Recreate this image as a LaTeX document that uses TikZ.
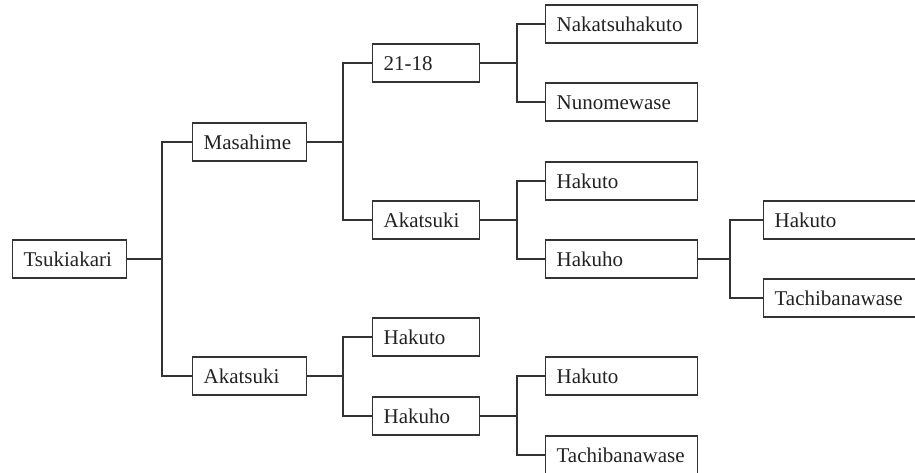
\documentclass[tikz,border=0pt]{standalone}
\usepackage{fontspec}
\setmainfont{Liberation Serif}
\definecolor{linec}{HTML}{333333}
\definecolor{textc}{HTML}{222222}
\begin{document}
\begin{tikzpicture}[x=1pt,y=-1pt,
  box/.style={draw=linec, line width=1.2pt, rectangle, anchor=west, minimum height=38pt,
    inner xsep=11pt, inner ysep=0pt, text height=15pt, text depth=1pt, align=left,
    font=\fontsize{21}{24}\selectfont, text=textc},
  colA/.style={box, text width=92pt},
  colB/.style={box, text width=85pt},
  colC/.style={box, text width=130pt},
  colD/.style={box, text width=138pt},
  conn/.style={draw=linec, line width=1.2pt}]
\useasboundingbox (0,0) rectangle (915,472);
\clip (0,0) rectangle (915,472);
% column 1
\node[colA] (tsu) at (12,259) {Tsukiakari};
% column 2
\node[colA] (masa) at (192,142) {Masahime};
\node[colA] (aka1) at (192,376) {Akatsuki};
% column 3
\node[colB] (n2118) at (372,63) {21-18};
\node[colB] (aka2) at (372,220) {Akatsuki};
\node[colB] (hak1) at (372,337) {Hakuto};
\node[colB] (hkh1) at (372,416) {Hakuho};
% column 4
\node[colC] (naka) at (545,24) {Nakatsuhakuto};
\node[colC] (nuno) at (545,102) {Nunomewase};
\node[colC] (hak2) at (545,181) {Hakuto};
\node[colC] (hkh2) at (545,259) {Hakuho};
\node[colC] (hak3) at (545,376) {Hakuto};
\node[colC] (tach1) at (545,455) {Tachibanawase};
% column 5
\node[colD] (hak4) at (763,220) {Hakuto};
\node[colD] (tach2) at (763,298) {Tachibanawase};
% bus coordinates
\coordinate (b1) at (162,259);
\coordinate (b2) at (343,142);
\coordinate (b3) at (343,376);
\coordinate (b4) at (517,63);
\coordinate (b5) at (517,220);
\coordinate (b6) at (517,416);
\coordinate (b7) at (730,259);
% connectors
\draw[conn] (tsu.east) -- (b1);
\draw[conn] (masa.west) -- (b1 |- masa.west) -- (b1 |- aka1.west) -- (aka1.west);
\draw[conn] (masa.east) -- (b2);
\draw[conn] (n2118.west) -- (b2 |- n2118.west) -- (b2 |- aka2.west) -- (aka2.west);
\draw[conn] (aka1.east) -- (b3);
\draw[conn] (hak1.west) -- (b3 |- hak1.west) -- (b3 |- hkh1.west) -- (hkh1.west);
\draw[conn] (n2118.east) -- (b4);
\draw[conn] (naka.west) -- (b4 |- naka.west) -- (b4 |- nuno.west) -- (nuno.west);
\draw[conn] (aka2.east) -- (b5);
\draw[conn] (hak2.west) -- (b5 |- hak2.west) -- (b5 |- hkh2.west) -- (hkh2.west);
\draw[conn] (hkh1.east) -- (b6);
\draw[conn] (hak3.west) -- (b6 |- hak3.west) -- (b6 |- tach1.west) -- (tach1.west);
\draw[conn] (hkh2.east) -- (b7);
\draw[conn] (hak4.west) -- (b7 |- hak4.west) -- (b7 |- tach2.west) -- (tach2.west);
\end{tikzpicture}
\end{document}
